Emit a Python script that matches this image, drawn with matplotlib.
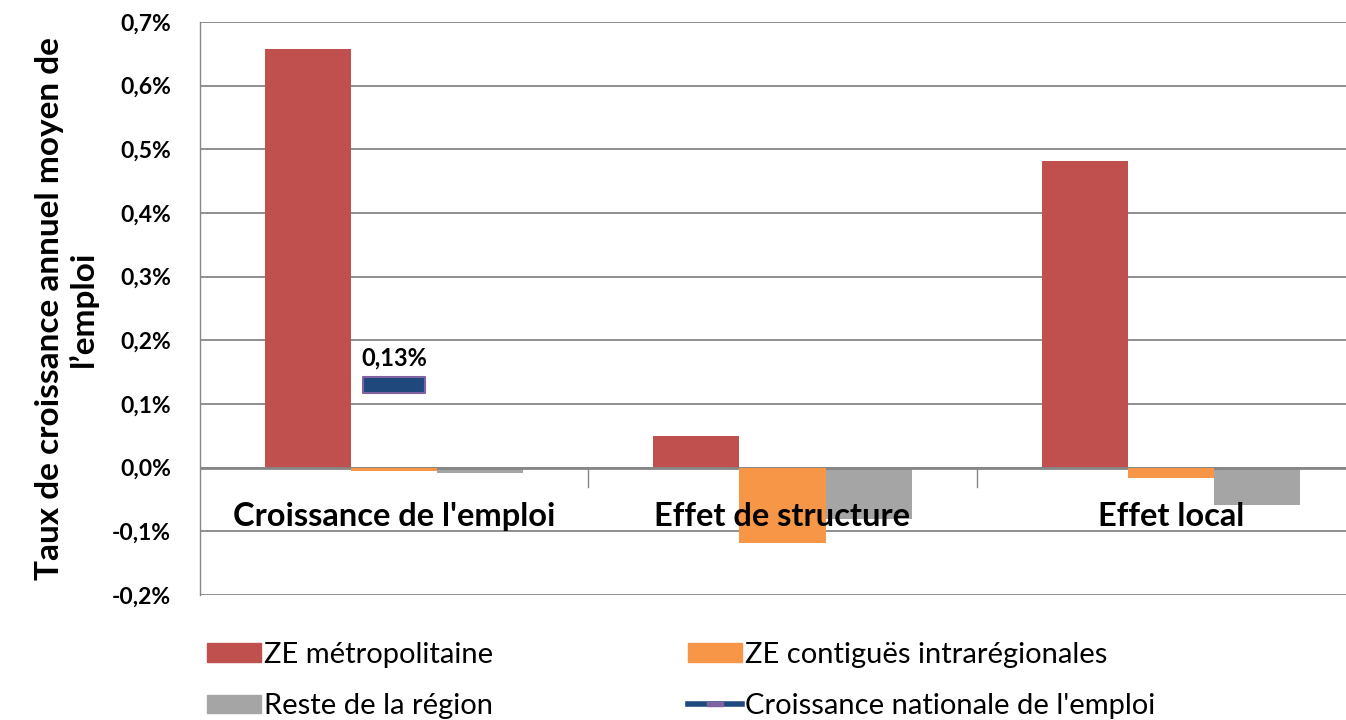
import matplotlib
matplotlib.use("Agg")
import matplotlib.pyplot as plt
import numpy as np
from matplotlib.patches import Patch
from matplotlib.lines import Line2D
from matplotlib.path import Path

plt.rcParams['font.family'] = ['Lato', 'DejaVu Sans']

# values in % (annual growth rate)
categories = ["Croissance de l'emploi", "Effet de structure", "Effet local"]
ze_metro = [0.657, 0.049, 0.482]
ze_contig = [-0.006, -0.118, -0.017]
reste_region = [-0.009, -0.080, -0.059]
nat_growth = [0.13, np.nan, np.nan]
nat_label = "0,13%"

series_names = ["ZE métropolitaine", "ZE contiguës intrarégionales",
                "Reste de la région", "Croissance nationale de l'emploi"]
yticks = [-0.2, -0.1, 0.0, 0.1, 0.2, 0.3, 0.4, 0.5, 0.6, 0.7]

RED, ORANGE, GREY = "#C0504D", "#F79646", "#A5A5A5"
NAVY, PURPLE = "#1F497D", "#8064A2"

fig = plt.figure(figsize=(13.46, 7.2), dpi=100)
ax = fig.add_axes([200 / 1346, 1 - 595 / 720, 1165 / 1346, 573 / 720])

x = np.arange(len(categories))
w = 0.2216
ax.bar(x - w, ze_metro, w, color=RED, zorder=3)
ax.bar(x, ze_contig, w, color=ORANGE, zorder=5)
ax.bar(x + w, reste_region, w, color=GREY, zorder=3)

# national growth shown as a flat dash marker
dash = Path([(-2, -0.5), (2, -0.5), (2, 0.5), (-2, 0.5), (-2, -0.5)],
            [Path.MOVETO, Path.LINETO, Path.LINETO, Path.LINETO, Path.CLOSEPOLY])
ax.plot(x, nat_growth, color=NAVY, lw=3, marker=dash, markersize=44,
        markerfacecolor=NAVY, markeredgecolor=PURPLE, markeredgewidth=1.5, zorder=5)
ax.annotate(nat_label, (x[0], nat_growth[0]), xytext=(0, 11), textcoords="offset points",
            ha="center", va="bottom", fontsize=17, fontweight="bold", zorder=6)

ax.set_xlim(-0.5, len(categories) - 0.5)
ax.set_ylim(-0.2, 0.7)
ax.set_yticks(yticks)
ax.set_yticklabels([f"{v:.1f}%".replace(".", ",") for v in yticks],
                   fontsize=16.5, fontweight="bold")
ax.yaxis.grid(True, color="#868686", lw=1.3, zorder=0)
ax.axhline(0, color="#868686", lw=2, zorder=4)
ax.tick_params(axis="y", length=0, pad=21)
ax.set_xticks([])
for sp in ["top", "right", "bottom"]:
    ax.spines[sp].set_visible(False)
ax.spines["left"].set_color("#868686")
ax.spines["left"].set_linewidth(1)

# category separators below the zero line
for b in x[:-1] + 0.5:
    ax.plot([b, b], [0, -0.03], color="#868686", lw=1, zorder=4)

for xi, cat in zip(x, categories):
    ax.text(xi, -0.077, cat, ha="center", va="center", fontsize=23.5,
            fontweight="bold", zorder=6)

ax.set_ylabel("Taux de croissance annuel moyen de\nl\u2019emploi", fontsize=24,
              fontweight="bold", labelpad=10, linespacing=1.15)

# column-major order so rows read: red/orange, grey/navy
handles = [Patch(color=RED), Patch(color=GREY), Patch(color=ORANGE),
           Line2D([0], [0], color=NAVY, lw=4, marker=dash, markersize=12,
                  markerfacecolor=PURPLE, markeredgecolor=PURPLE, markeredgewidth=1)]
labels = [series_names[0], series_names[2], series_names[1], series_names[3]]
fig.legend(handles, labels, loc="upper left", bbox_to_anchor=(207 / 1346, 1 - 642 / 720),
           ncol=2, frameon=False, fontsize=21, handlelength=1.85, handleheight=0.6,
           handletextpad=0.1, columnspacing=6.7, labelspacing=0.86, borderpad=0,
           borderaxespad=0)

fig.savefig("out.png", dpi=100)
